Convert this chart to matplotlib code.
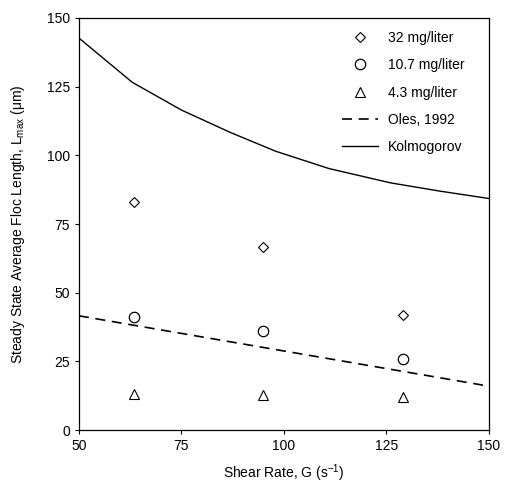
import numpy as np
import matplotlib.pyplot as plt

# shear rates of the jar tests (s^-1)
G = [63.4, 95, 129]
# steady state floc length (um) per solids concentration
L_32 = [83.2, 66.8, 42.0]
L_107 = [41.2, 36.1, 26.0]
L_43 = [13.1, 12.7, 12.0]

# Oles (1992) correlation and Kolmogorov microscale
G_oles = [50, 150]
L_oles = [41.6, 16.0]
G_kol = [50, 63, 75, 87, 98, 111, 126, 138, 150]
L_kol = [142.7, 126.6, 116.5, 108.3, 101.5, 95.2, 90.0, 87.0, 84.3]

plt.rcParams['font.family'] = ['Liberation Sans', 'DejaVu Sans']
plt.rcParams['mathtext.fontset'] = 'custom'
plt.rcParams['mathtext.rm'] = 'Liberation Sans'
plt.rcParams['mathtext.it'] = 'Liberation Sans'

fig = plt.figure(figsize=(5.06, 4.86), dpi=100)
ax = fig.add_axes([0.156, 0.115, 0.81, 0.848])

ax.plot(G, L_32, 'D', ms=5.5, mfc='white', mec='black', mew=0.8, label='32 mg/liter')
ax.plot(G, L_107, 'o', ms=7.5, mfc='white', mec='black', mew=0.9, label='10.7 mg/liter')
ax.plot(G, L_43, '^', ms=7, mfc='white', mec='black', mew=0.8, label='4.3 mg/liter')
ax.plot(G_oles, L_oles, color='black', lw=1.2, dashes=(6, 4), label='Oles, 1992')
ax.plot(G_kol, L_kol, color='black', lw=1.0, label='Kolmogorov')

ax.set_xlim(50, 150)
ax.set_ylim(0, 150)
ax.set_xticks([50, 75, 100, 125, 150])
ax.set_yticks([0, 25, 50, 75, 100, 125, 150])
ax.tick_params(labelsize=10, direction='out', length=3, width=0.8)
for s in ax.spines.values():
    s.set_linewidth(0.9)

ax.set_xlabel('Shear Rate, G (s$^{-1}$)', fontsize=10, labelpad=7)
ax.set_ylabel('Steady State Average Floc Length, L$_{max}$ ($\\mu$m)', fontsize=10, labelpad=14)

ax.legend(loc='upper right', bbox_to_anchor=(0.968, 0.995), frameon=False, fontsize=10,
          handlelength=2.6, handletextpad=0.7, labelspacing=0.95, borderaxespad=0.4)

fig.savefig('out.png', dpi=100)
